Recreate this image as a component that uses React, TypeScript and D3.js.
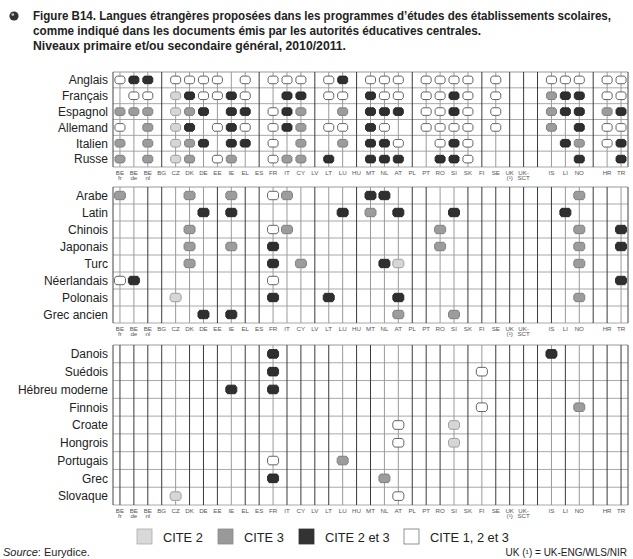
import React from 'react';
import * as d3 from 'd3';

const COUNTRIES = ["BEfr","BEde","BEnl","BG","CZ","DK","DE","EE","IE","EL","ES","FR","IT","CY","LV","LT","LU","HU","MT","NL","AT","PL","PT","RO","SI","SK","FI","SE","UK","UKSCT","gap1","IS","LI","NO","gap2","HR","TR"];
const COUNTRY_LINE1 = ["BE","BE","BE","BG","CZ","DK","DE","EE","IE","EL","ES","FR","IT","CY","LV","LT","LU","HU","MT","NL","AT","PL","PT","RO","SI","SK","FI","SE","UK","UK-","","IS","LI","NO","","HR","TR"];
const COUNTRY_LINE2 = ["fr","de","nl","","","","","","","","","","","","","","","","","","","","","","","","","","(¹)","SCT","","","","","","",""];

// a = CITE 2, b = CITE 3, c = CITE 2 et 3, d = CITE 1, 2 et 3
const topLanguages = ["Anglais","Français","Espagnol","Allemand","Italien","Russe"];
const topCells = [
  "BEfr:d BEde:c BEnl:c CZ:d DK:d DE:d EE:d EL:d FR:d IT:d CY:d LT:d LU:c MT:d NL:d AT:d PT:d RO:d SI:d SK:d SE:d IS:d LI:d NO:d HR:d TR:d",
  "BEde:d BEnl:d CZ:a DK:c DE:d EE:d IE:c EL:d IT:c CY:c LT:d LU:d MT:c NL:d AT:d PT:d RO:d SI:c SK:d SE:d IS:b LI:c NO:c HR:d TR:d",
  "BEfr:b BEde:b BEnl:b CZ:a DK:b DE:c IE:c EL:c FR:d IT:c CY:b LU:b MT:c NL:c AT:c PT:d RO:d SI:c SK:d SE:d IS:b LI:c NO:c HR:b TR:c",
  "BEfr:d BEnl:b CZ:a DK:c EE:d IE:c EL:d FR:d IT:c CY:b LT:d LU:d MT:c NL:d PT:d RO:d SI:d SK:d SE:d IS:b NO:c HR:d TR:d",
  "BEfr:b BEnl:b CZ:a DK:b DE:c IE:c EL:c FR:d CY:b LU:b MT:c NL:c AT:d RO:d SI:c SK:d LI:c NO:b HR:d TR:c",
  "BEfr:b BEnl:b CZ:a DK:b EE:d IE:b FR:d IT:b CY:b LT:c MT:c NL:c AT:c RO:c SI:c SK:d NO:c TR:c",
];

const midLanguages = ["Arabe","Latin","Chinois","Japonais","Turc","Néerlandais","Polonais","Grec ancien"];
const midCells = [
  "BEfr:b DK:b IE:b FR:d IT:b MT:c NL:c NO:b",
  "DE:c IE:c LU:c MT:b AT:c SI:c LI:c",
  "DK:b FR:d IT:b RO:b NO:b TR:c",
  "DK:b IE:b FR:c RO:b NO:b TR:c",
  "DK:b FR:c CY:b NL:c AT:a NO:b",
  "BEfr:d BEde:c FR:d TR:c",
  "CZ:a FR:c LT:c AT:c NO:b",
  "DE:c IE:c AT:b SI:b",
];

const botLanguages = ["Danois","Suédois","Hébreu moderne","Finnois","Croate","Hongrois","Portugais","Grec","Slovaque"];
const botCells = [
  "FR:c IS:c",
  "FR:c FI:d",
  "IE:c FR:c",
  "FI:d NO:b",
  "AT:d SI:a",
  "AT:d SI:a",
  "FR:d LU:b",
  "FR:c NL:b",
  "CZ:a AT:d",
];

const legendKeys = ["a","b","c","d"];
const legendLabels = ["CITE 2","CITE 3","CITE 2 et 3","CITE 1, 2 et 3"];

const titleLines = [
  "Figure B14. Langues étrangères proposées dans les programmes d’études des établissements scolaires,",
  "comme indiqué dans les documents émis par les autorités éducatives centrales.",
  "Niveaux primaire et/ou secondaire général, 2010/2011.",
];

const FILL: Record<string, string> = { a: "#d6d6d6", b: "#9c9c9c", c: "#2f2f2f", d: "#ffffff" };
const STROKE: Record<string, string> = { a: "#9a9a9a", b: "#7a7a7a", c: "#222", d: "#555" };
const LEG_FILL: Record<string, string> = { a: "#d9d9d9", b: "#999", c: "#333", d: "#fff" };
const LEG_STROKE: Record<string, string> = { a: "#aaa", b: "#888", c: "#333", d: "#777" };

const W = 633, H = 559;
const FONT = "'Liberation Sans', Arial, sans-serif";

function parseCells(s: string): { c: string; k: string }[] {
  return s.split(/\s+/).filter(Boolean).map(t => { const [c, k] = t.split(":"); return { c, k }; });
}

function hexPath(w: number, h: number) {
  const hw = w / 2, hh = h / 2, cut = 1.6, side = h * 0.24;
  return `M${-hw},${-side} L${-hw + cut},${-hh} L${hw - cut},${-hh} L${hw},${-side} L${hw},${side} L${hw - cut},${hh} L${-hw + cut},${hh} L${-hw},${side} Z`;
}

const sections = [
  { langs: topLanguages, cells: topCells, y0: 72, y1: 167, mw: 10, mh: 7.6 },
  { langs: midLanguages, cells: midCells, y0: 187, y1: 323, mw: 11, mh: 8.4 },
  { langs: botLanguages, cells: botCells, y0: 345, y1: 505, mw: 11, mh: 8.6 },
];

export default function App() {
  const x = d3.scaleBand<string>().domain(COUNTRIES).range([113, 628]);
  const bw = x.bandwidth();
  const cx = (c: string) => (x(c) as number) + bw / 2;
  const [xl, xr] = x.range();

  return (
    <svg width={W} height={H} style={{ position: 'absolute', left: 0, top: 0, background: '#fff' }} fontFamily={FONT}>
      {/* title */}
      <circle cx={14} cy={16} r={4.6} fill="#333" />
      <circle cx={12.8} cy={14.6} r={1.4} fill="#bbb" />
      {titleLines.map((t, i) => (
        <text key={i} x={33} y={20 + i * 15} fontSize={12} fontWeight="bold" fill="#222"
          textLength={[578, 448, 313][i]} lengthAdjust="spacingAndGlyphs">{t}</text>
      ))}

      {sections.map((s, si) => {
        const y = d3.scaleBand<string>().domain(s.langs).range([s.y0, s.y1]);
        const rh = y.bandwidth();
        const parsed = s.cells.map(parseCells);
        const used = new Set<string>();
        parsed.forEach(r => r.forEach(e => used.add(e.c)));
        const path = hexPath(s.mw, s.mh);
        return (
          <g key={si}>
            {s.langs.map((l, i) => (
              <line key={'h' + i} x1={xl} x2={xr} y1={(y(l) as number) + rh} y2={(y(l) as number) + rh}
                stroke="#a8a8a8" strokeWidth={1} />
            ))}
            <line x1={xl} x2={xr} y1={s.y0} y2={s.y0} stroke="#999" strokeWidth={1} />
            {COUNTRIES.map(c => (
              <line key={'v' + c} x1={cx(c)} x2={cx(c)} y1={s.y0} y2={s.y1}
                stroke={used.has(c) ? "#9a9a9a" : "#3a3a3a"} strokeWidth={1} />
            ))}
            <line x1={xl} x2={xl} y1={s.y0} y2={s.y1} stroke="#444" strokeWidth={1} />
            <line x1={xr} x2={xr} y1={s.y0} y2={s.y1} stroke="#444" strokeWidth={1} />
            {s.langs.map(l => (
              <text key={'l' + l} x={108} y={(y(l) as number) + rh / 2 + 4.3} textAnchor="end" fontSize={12} fill="#222">{l}</text>
            ))}
            {parsed.map((row, ri) => row.map(e => (
              <path key={ri + e.c} d={path}
                transform={`translate(${cx(e.c)},${(y(s.langs[ri]) as number) + rh / 2})`}
                fill={FILL[e.k]} stroke={STROKE[e.k]} strokeWidth={0.9} />
            )))}
            {COUNTRIES.map((c, i) => (
              <g key={'c' + c} fontSize={6.2} fill="#555" textAnchor="middle">
                <text x={cx(c)} y={s.y1 + 7.5}>{COUNTRY_LINE1[i]}</text>
                {COUNTRY_LINE2[i] && <text x={cx(c)} y={s.y1 + 13}>{COUNTRY_LINE2[i]}</text>}
              </g>
            ))}
          </g>
        );
      })}

      {legendKeys.map((k, i) => {
        const lx = [137, 218, 299, 404][i];
        return (
          <g key={k}>
            <rect x={lx} y={529} width={15} height={15} fill={LEG_FILL[k]} stroke={LEG_STROKE[k]} strokeWidth={0.8} />
            <text x={lx + 26} y={542} fontSize={12.8} fill="#222">{legendLabels[i]}</text>
          </g>
        );
      })}

      <text x={3} y={556} fontSize={11} fill="#222"><tspan fontStyle="italic">Source</tspan>: Eurydice.</text>
      <text x={627} y={556} fontSize={10} fill="#222" textAnchor="end">UK (¹) = UK-ENG/WLS/NIR</text>
    </svg>
  );
}
